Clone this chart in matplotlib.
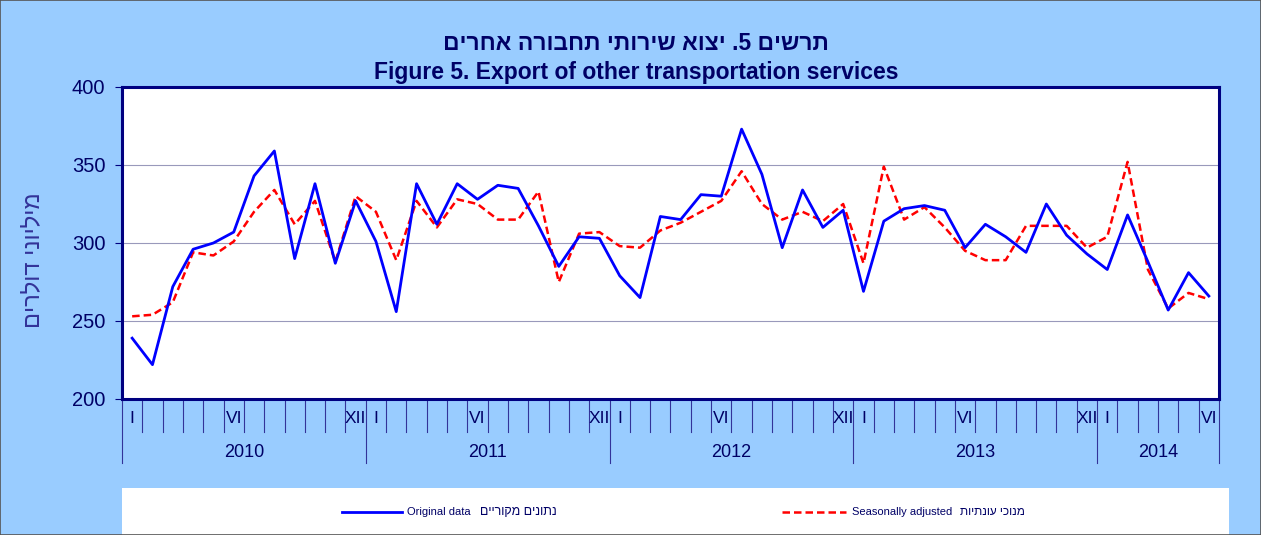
import matplotlib
matplotlib.use("Agg")
import matplotlib.pyplot as plt
from matplotlib.lines import Line2D
from matplotlib.patches import Rectangle
import matplotlib.transforms as mtransforms

plt.rcParams['font.family'] = ['Liberation Sans', 'DejaVu Sans']

# monthly values, Jan 2010 .. Jun 2014 ($ millions)
original = [239, 222, 272, 296, 300, 307, 343, 359, 290, 338, 287, 327,
            301, 256, 338, 312, 338, 328, 337, 335, 311, 285, 304, 303,
            279, 265, 317, 315, 331, 330, 373, 344, 297, 334, 310, 321,
            269, 314, 322, 324, 321, 297, 312, 304, 294, 325, 305, 293,
            283, 318, 288, 257, 281, 266]
seasonal = [253, 254, 262, 294, 292, 301, 320, 334, 312, 327, 288, 330,
            320, 289, 327, 310, 328, 325, 315, 315, 333, 275, 306, 307,
            298, 297, 308, 313, 320, 327, 346, 325, 315, 320, 314, 325,
            287, 349, 315, 323, 310, 295, 289, 289, 311, 311, 311, 297,
            304, 352, 283, 258, 268, 264]
years = ["2010", "2011", "2012", "2013", "2014"]
month_labels = {0: "I", 5: "VI", 11: "XII"}
yticks = [200, 250, 300, 350, 400]

NAVY = "#000080"
TXT = "#000066"


def rtl(s):
    # matplotlib has no bidi support: give Hebrew in visual order
    return s[::-1]


W, H = 1261, 535
fig = plt.figure(figsize=(W / 100, H / 100), dpi=100, facecolor="#99CCFF")
ax = fig.add_axes([122 / W, 1 - 399 / H, 1097 / W, 312 / H])

n = len(original)
xs = list(range(n))
ax.plot(xs, seasonal, color="#FF0000", lw=1.8, ls=(0, (3, 1.6)), zorder=3)
ax.plot(xs, original, color="#0000FF", lw=2.0, zorder=4)

ax.set_xlim(-0.5, n - 0.5)
ax.set_ylim(200, 400)
ax.set_yticks(yticks)
ax.yaxis.grid(True, color="#9999BB", lw=0.8)
ax.set_axisbelow(True)
ax.tick_params(axis="y", direction="out", length=5, width=0.8, color=NAVY,
               labelcolor=TXT, labelsize=14.5, pad=7)
ax.set_xticks([])
for s in ax.spines.values():
    s.set_color(NAVY)
    s.set_linewidth(2.2)

# category axis: month ticks, roman month labels, year bands
trans = mtransforms.blended_transform_factory(ax.transData, ax.transAxes)
for i in range(n + 1):
    x = i - 0.5
    long_tick = (i % 12 == 0) or i == n
    ax.plot([x, x], [0, -0.205 if long_tick else -0.106], transform=trans,
            color="#333399", lw=0.8, clip_on=False)
for i in range(n):
    lab = month_labels.get(i % 12)
    if lab:
        ax.text(i, -0.062, lab, transform=trans, ha="center", va="center",
                fontsize=12.5, color=TXT)
for k, yr in enumerate(years):
    start = 12 * k - 0.5
    end = min(12 * (k + 1), n) - 0.5
    ax.text((start + end) / 2, -0.17, yr, transform=trans, ha="center",
            va="center", fontsize=13, color=TXT)

ax.set_ylabel(rtl("מיליוני דולרים"), fontsize=17, color="#333399", labelpad=0)
ax.yaxis.set_label_coords((44 - 122) / 1097, (399 - 260) / 312)

fig.text(636 / W, 1 - 44 / H, rtl("תרשים 5. יצוא שירותי תחבורה אחרים"),
         ha="center", va="center", fontsize=16.5, fontweight="bold", color=TXT)
fig.text(636 / W, 1 - 72 / H, "Figure 5. Export of other transportation services",
         ha="center", va="center", fontsize=16.5, fontweight="bold", color=TXT)

# legend strip
fig.patches.append(Rectangle((122 / W, 0), (1229 - 122) / W, (535 - 488) / H,
                             transform=fig.transFigure, facecolor="white",
                             edgecolor="none", zorder=0))
ly = 1 - 512 / H
fig.lines.append(Line2D([342 / W, 402 / W], [ly, ly], transform=fig.transFigure,
                        color="#0000FF", lw=2.0))
fig.text(407 / W, ly, "Original data", fontsize=8, color=TXT, va="center")
fig.text(480 / W, ly, rtl("נתונים מקוריים"), fontsize=9, color=TXT, va="center")
fig.lines.append(Line2D([782 / W, 846 / W], [ly, ly], transform=fig.transFigure,
                        color="#FF0000", lw=1.8, ls=(0, (3, 1.6))))
fig.text(852 / W, ly, "Seasonally adjusted", fontsize=8, color=TXT, va="center")
fig.text(960 / W, ly, rtl("מנוכי עונתיות"), fontsize=8.5, color=TXT, va="center")

# thin outer frame
fig.patches.append(Rectangle((0, 0), 1, 1, transform=fig.transFigure,
                             facecolor="none", edgecolor="#555555", lw=1.2))

fig.savefig("out.png", dpi=100, facecolor=fig.get_facecolor())
